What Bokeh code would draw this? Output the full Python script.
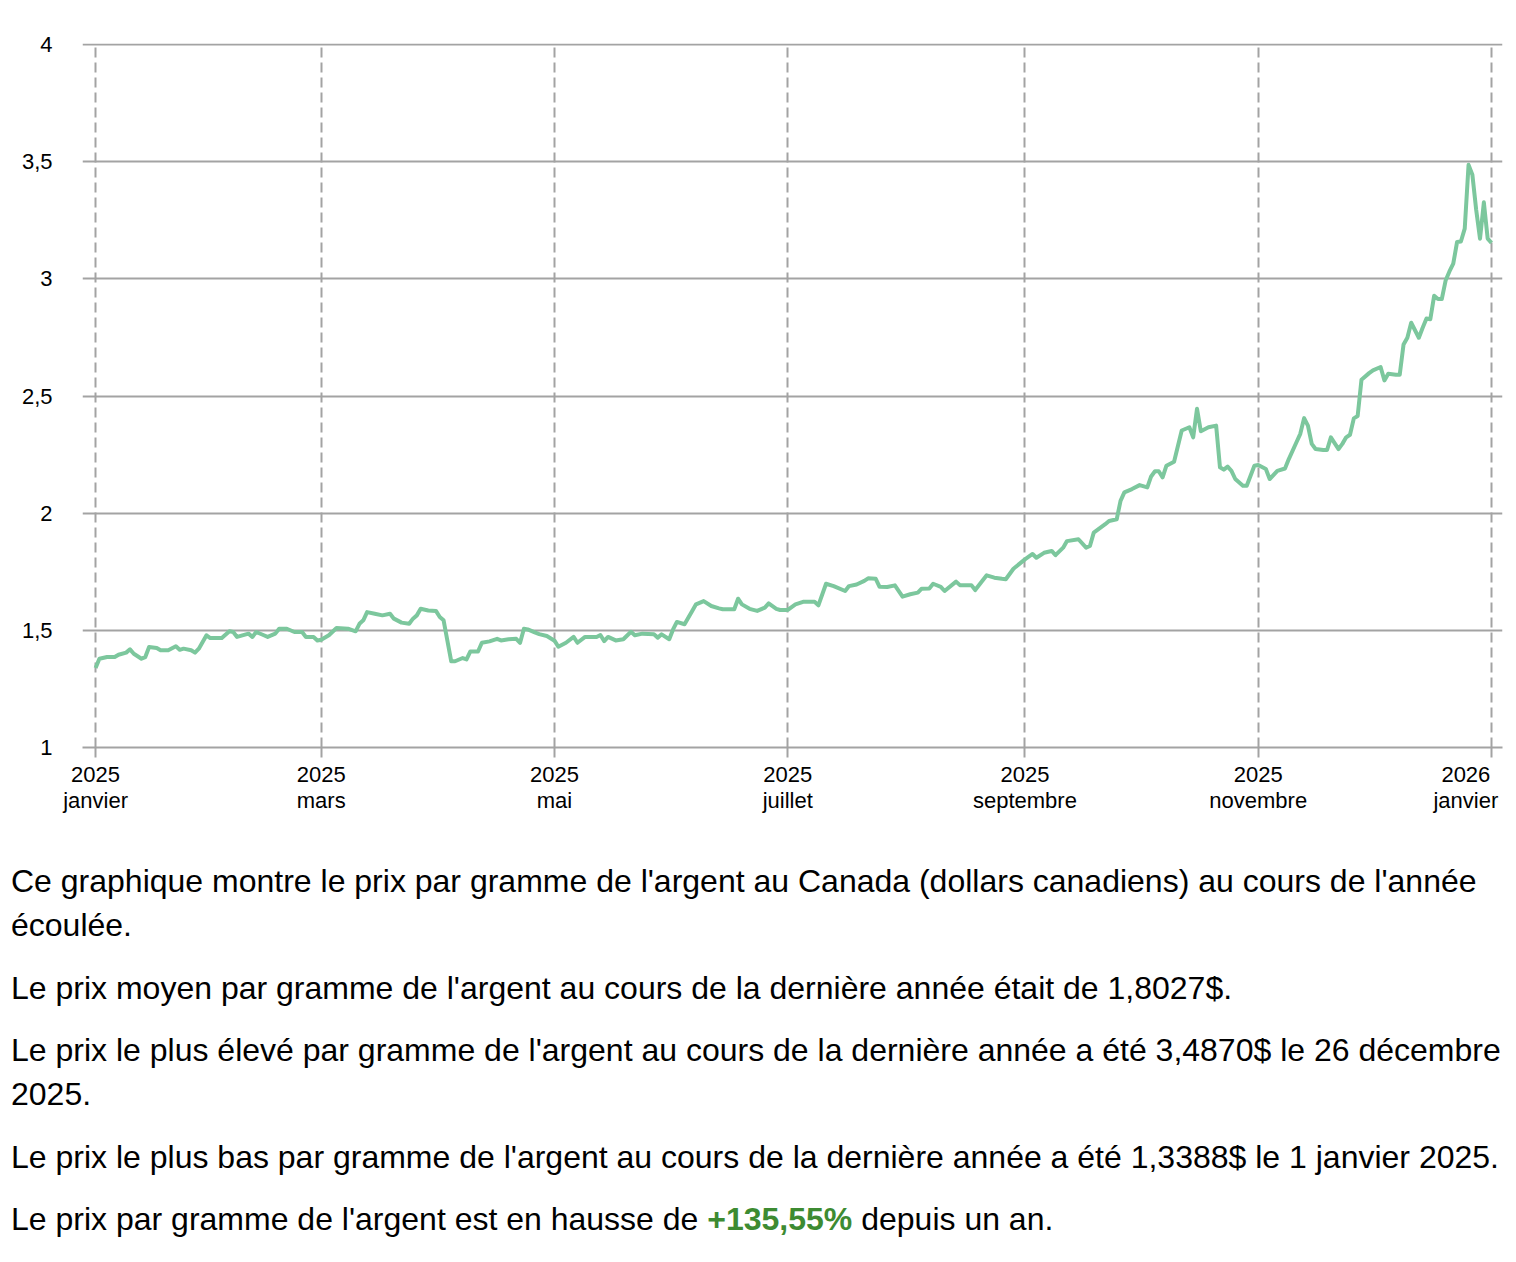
import pandas as pd
from bokeh.plotting import figure
from bokeh.models import Range1d, FixedTicker, Div, ColumnDataSource
from bokeh.layouts import column
from bokeh.embed import file_html
from bokeh.resources import INLINE

# prix par gramme de l'argent (CAD)
dates = [
    "2025-01-01", "2025-01-02", "2025-01-04", "2025-01-06", "2025-01-07", "2025-01-09", "2025-01-10",
    "2025-01-11", "2025-01-13", "2025-01-14", "2025-01-15", "2025-01-17", "2025-01-18", "2025-01-20",
    "2025-01-22", "2025-01-23", "2025-01-24", "2025-01-26", "2025-01-27", "2025-01-28", "2025-01-30",
    "2025-01-31", "2025-02-03", "2025-02-05", "2025-02-06", "2025-02-07", "2025-02-10", "2025-02-11",
    "2025-02-12", "2025-02-14", "2025-02-15", "2025-02-17", "2025-02-18", "2025-02-20", "2025-02-22",
    "2025-02-24", "2025-02-25", "2025-02-27", "2025-02-28", "2025-03-01", "2025-03-03", "2025-03-05",
    "2025-03-08", "2025-03-10", "2025-03-11", "2025-03-12", "2025-03-13", "2025-03-15", "2025-03-17",
    "2025-03-19", "2025-03-20", "2025-03-22", "2025-03-24", "2025-03-25", "2025-03-26", "2025-03-27",
    "2025-03-29", "2025-03-31", "2025-04-01", "2025-04-02", "2025-04-04", "2025-04-05", "2025-04-07",
    "2025-04-08", "2025-04-09", "2025-04-11", "2025-04-12", "2025-04-14", "2025-04-16", "2025-04-17",
    "2025-04-19", "2025-04-21", "2025-04-22", "2025-04-23", "2025-04-24", "2025-04-26", "2025-04-27",
    "2025-04-29", "2025-05-01", "2025-05-02", "2025-05-04", "2025-05-06", "2025-05-07", "2025-05-09",
    "2025-05-12", "2025-05-13", "2025-05-14", "2025-05-15", "2025-05-17", "2025-05-19", "2025-05-21",
    "2025-05-22", "2025-05-24", "2025-05-27", "2025-05-28", "2025-05-29", "2025-05-31", "2025-06-01",
    "2025-06-02", "2025-06-04", "2025-06-06", "2025-06-07", "2025-06-09", "2025-06-11", "2025-06-13",
    "2025-06-14", "2025-06-17", "2025-06-18", "2025-06-19", "2025-06-21", "2025-06-23", "2025-06-25",
    "2025-06-26", "2025-06-28", "2025-06-29", "2025-07-01", "2025-07-03", "2025-07-05", "2025-07-08",
    "2025-07-09", "2025-07-11", "2025-07-13", "2025-07-16", "2025-07-17", "2025-07-19", "2025-07-21",
    "2025-07-22", "2025-07-24", "2025-07-25", "2025-07-27", "2025-07-29", "2025-07-31", "2025-08-02",
    "2025-08-04", "2025-08-05", "2025-08-07", "2025-08-08", "2025-08-10", "2025-08-11", "2025-08-14",
    "2025-08-15", "2025-08-18", "2025-08-19", "2025-08-22", "2025-08-24", "2025-08-26", "2025-08-27",
    "2025-08-29", "2025-09-01", "2025-09-03", "2025-09-04", "2025-09-06", "2025-09-08", "2025-09-09",
    "2025-09-11", "2025-09-12", "2025-09-15", "2025-09-17", "2025-09-18", "2025-09-19", "2025-09-22",
    "2025-09-23", "2025-09-25", "2025-09-26", "2025-09-27", "2025-09-29", "2025-10-01", "2025-10-03",
    "2025-10-04", "2025-10-05", "2025-10-06", "2025-10-07", "2025-10-08", "2025-10-10", "2025-10-12",
    "2025-10-14", "2025-10-15", "2025-10-16", "2025-10-17", "2025-10-19", "2025-10-21", "2025-10-22",
    "2025-10-23", "2025-10-24", "2025-10-25", "2025-10-26", "2025-10-28", "2025-10-29", "2025-10-31",
    "2025-11-01", "2025-11-03", "2025-11-04", "2025-11-06", "2025-11-08", "2025-11-09", "2025-11-11",
    "2025-11-12", "2025-11-13", "2025-11-14", "2025-11-15", "2025-11-16", "2025-11-18", "2025-11-19",
    "2025-11-20", "2025-11-22", "2025-11-23", "2025-11-24", "2025-11-25", "2025-11-26", "2025-11-27",
    "2025-11-28", "2025-11-30", "2025-12-01", "2025-12-03", "2025-12-04", "2025-12-05", "2025-12-07",
    "2025-12-08", "2025-12-09", "2025-12-10", "2025-12-11", "2025-12-13", "2025-12-14", "2025-12-15",
    "2025-12-16", "2025-12-17", "2025-12-18", "2025-12-19", "2025-12-20", "2025-12-21", "2025-12-22",
    "2025-12-23", "2025-12-24", "2025-12-25", "2025-12-26", "2025-12-27", "2025-12-28", "2025-12-29",
    "2025-12-30", "2025-12-31", "2026-01-01",
]
prices = [
    1.339, 1.379, 1.386, 1.386, 1.396, 1.405, 1.419,
    1.400, 1.379, 1.386, 1.429, 1.425, 1.415, 1.415,
    1.432, 1.417, 1.422, 1.415, 1.405, 1.422, 1.479,
    1.467, 1.467, 1.496, 1.493, 1.472, 1.486, 1.472,
    1.493, 1.479, 1.472, 1.486, 1.507, 1.507, 1.493,
    1.493, 1.472, 1.472, 1.457, 1.460, 1.479, 1.510,
    1.507, 1.496, 1.528, 1.543, 1.578, 1.571, 1.564,
    1.571, 1.550, 1.533, 1.528, 1.550, 1.564, 1.592,
    1.585, 1.583, 1.557, 1.543, 1.368, 1.368, 1.382,
    1.376, 1.410, 1.410, 1.447, 1.453, 1.464, 1.457,
    1.462, 1.464, 1.447, 1.507, 1.504, 1.490, 1.484,
    1.476, 1.456, 1.430, 1.447, 1.472, 1.447, 1.472,
    1.472, 1.480, 1.454, 1.472, 1.457, 1.462, 1.494,
    1.479, 1.486, 1.483, 1.469, 1.483, 1.462, 1.504,
    1.536, 1.526, 1.583, 1.611, 1.625, 1.604, 1.594,
    1.590, 1.590, 1.635, 1.611, 1.592, 1.583, 1.597,
    1.615, 1.592, 1.587, 1.587, 1.611, 1.622, 1.622,
    1.607, 1.699, 1.689, 1.668, 1.689, 1.696, 1.711,
    1.722, 1.720, 1.686, 1.685, 1.692, 1.644, 1.654,
    1.661, 1.678, 1.679, 1.699, 1.686, 1.668, 1.708,
    1.693, 1.693, 1.672, 1.735, 1.725, 1.720, 1.718,
    1.763, 1.803, 1.826, 1.810, 1.831, 1.839, 1.821,
    1.853, 1.881, 1.889, 1.853, 1.860, 1.917, 1.953,
    1.967, 1.974, 2.053, 2.089, 2.103, 2.120, 2.110,
    2.157, 2.179, 2.179, 2.153, 2.203, 2.220, 2.353,
    2.367, 2.324, 2.446, 2.350, 2.367, 2.374, 2.196,
    2.186, 2.199, 2.181, 2.146, 2.117, 2.117, 2.203,
    2.206, 2.189, 2.146, 2.181, 2.191, 2.231, 2.303,
    2.339, 2.406, 2.374, 2.296, 2.274, 2.270, 2.270,
    2.324, 2.274, 2.296, 2.324, 2.335, 2.405, 2.415,
    2.570, 2.598, 2.610, 2.624, 2.567, 2.595, 2.591,
    2.591, 2.720, 2.749, 2.813, 2.749, 2.792, 2.831,
    2.828, 2.928, 2.914, 2.914, 2.993, 3.032, 3.065,
    3.158, 3.160, 3.215, 3.487, 3.445, 3.294, 3.172,
    3.327, 3.172, 3.154,
]

tick_dates = ["2025-01-01", "2025-03-01", "2025-05-01", "2025-07-01",
              "2025-09-01", "2025-11-01", "2026-01-01"]
tick_years = ["2025", "2025", "2025", "2025", "2025", "2025", "2026"]
tick_months = ["janvier", "mars", "mai", "juillet", "septembre", "novembre", "janvier"]
y_ticks = [1, 1.5, 2, 2.5, 3, 3.5, 4]
y_labels = ["1", "1,5", "2", "2,5", "3", "3,5", "4"]

avg_price = "1,8027$"
max_price = "3,4870$"
max_date = "26 décembre 2025"
min_price = "1,3388$"
min_date = "1 janvier 2025"
change_pct = "+135,55%"

FONT = "Liberation Sans"
GRID = "#a3a3a3"
NBSP = "\u00a0"

source = ColumnDataSource(data=dict(date=pd.to_datetime(dates), price=prices))
tick_ms = [int(pd.Timestamp(d).value // 10**6) for d in tick_dates]

start = pd.Timestamp("2025-01-01") - pd.Timedelta(hours=82)
end = pd.Timestamp("2026-01-01") + pd.Timedelta(hours=69)

p = figure(width=1510, height=840, x_axis_type="datetime",
           x_range=Range1d(start, end), y_range=Range1d(1, 4.005),
           output_backend="svg", toolbar_location=None,
           min_border_left=82, min_border_right=8,
           min_border_top=43, min_border_bottom=93)
p.outline_line_color = None

p.line(x="date", y="price", source=source, line_color="#7cc79d",
       line_width=4, line_join="round")

# horizontal grid, solid
p.ygrid.ticker = FixedTicker(ticks=y_ticks)
p.ygrid.grid_line_color = GRID
p.ygrid.grid_line_width = 2

# vertical grid, dashed
p.xgrid.ticker = FixedTicker(ticks=tick_ms)
p.xgrid.grid_line_color = GRID
p.xgrid.grid_line_width = 2
p.xgrid.grid_line_dash = "10 5"

p.yaxis.ticker = FixedTicker(ticks=y_ticks)
p.yaxis.major_label_overrides = {t: l for t, l in zip(y_ticks, y_labels)}
p.yaxis.axis_line_color = None
p.yaxis.major_tick_line_color = None
p.yaxis.minor_tick_line_color = None
p.yaxis.major_tick_out = 0
p.yaxis.major_label_standoff = 30

p.xaxis.ticker = FixedTicker(ticks=tick_ms)
overrides = {}
for t, y, m in zip(tick_ms, tick_years, tick_months):
    overrides[t] = y + "\n" + m
# last label pushed left so it stays inside the chart
overrides[tick_ms[-1]] = (tick_years[-1] + NBSP * 2 + "\n" + tick_months[-1] + NBSP * 2)
p.xaxis.major_label_overrides = overrides
p.xaxis.axis_line_color = GRID
p.xaxis.axis_line_width = 2
p.xaxis.major_tick_line_color = GRID
p.xaxis.major_tick_line_width = 2
p.xaxis.major_tick_in = 0
p.xaxis.major_tick_out = 10
p.xaxis.minor_tick_line_color = None
p.xaxis.major_label_standoff = 4
p.xaxis.major_label_text_line_height = 1.05

for ax in (p.xaxis, p.yaxis):
    ax.major_label_text_font = FONT
    ax.major_label_text_font_size = "22px"
    ax.major_label_text_color = "#000000"

ps = "margin:0 0 18.5px 0;"
html = f"""<div style="font-family:'{FONT}',Arial,sans-serif;font-size:32px;line-height:44px;color:#000;padding:14px 0 0 6px;">
<p style="{ps}">Ce graphique montre le prix par gramme de l'argent au Canada (dollars canadiens) au cours de l'année écoulée.</p>
<p style="{ps}">Le prix moyen par gramme de l'argent au cours de la dernière année était de {avg_price}.</p>
<p style="{ps}">Le prix le plus élevé par gramme de l'argent au cours de la dernière année a été {max_price} le {max_date}.</p>
<p style="{ps}">Le prix le plus bas par gramme de l'argent au cours de la dernière année a été {min_price} le {min_date}.</p>
<p style="{ps}">Le prix par gramme de l'argent est en hausse de <b style="color:#3d8b32">{change_pct}</b> depuis un an.</p>
</div>"""
text = Div(text=html, width=1510)

layout = column(p, text)
open("out.html", "w").write(file_html(layout, INLINE, "Prix de l'argent"))
